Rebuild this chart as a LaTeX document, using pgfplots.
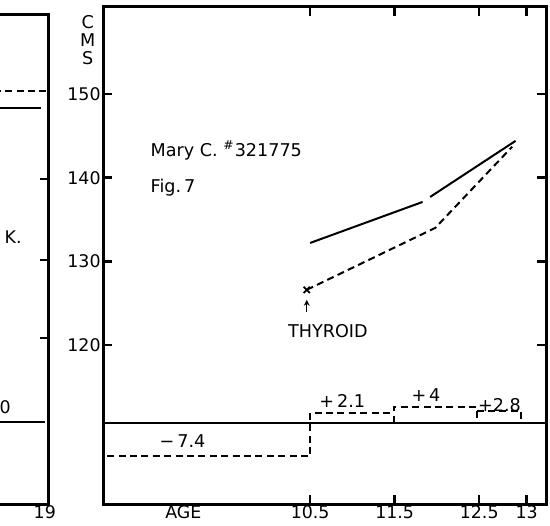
\documentclass[border=0pt]{standalone}
\usepackage{pgfplots}
\pgfplotsset{compat=1.18}
\usepackage{fontspec}
\setmainfont{DejaVu Sans}
\usetikzlibrary{arrows.meta}
\begin{document}
\begin{tikzpicture}
\pgfplotsset{
  every axis/.append style={
    scale only axis,
    axis line style={line width=1.5pt},
    tick align=inside,
    major tick length=4.5pt,
    every tick/.style={line width=1.2pt, black},
    tick label style={font=\fontsize{8.7}{10}\selectfont},
    yticklabel style={inner sep=1pt},
    xticklabel style={inner sep=0.8pt},
    /pgf/number format/assume math mode=true,
    clip=false,
  },
  dsh/.style={line width=1pt, dash pattern=on 3.5pt off 2.2pt},
  sld/.style={line width=1pt},
}
% ---- left panel (cut off) ----
\begin{axis}[
  at={(-100pt,10.5pt)}, anchor=south west,
  width=124.5pt, height=244.5pt,
  xmin=16.1, xmax=19.05, ymin=101.05, ymax=159.5,
  xtick={19}, xticklabels={19},
  xtick style={draw=none},
  ytick={139.9,130.2,120.9}, yticklabels={},
  ytick pos=right,
]
\addplot[dsh, black] coordinates {(16.1,150.4) (19.02,150.4)};
\addplot[sld, black] coordinates {(16.1,148.4) (18.96,148.4)};
\addplot[sld, black] coordinates {(16.1,110.85) (19.0,110.85)};
\node[anchor=east, font=\fontsize{8.7}{10}\selectfont, inner sep=0pt] at (axis cs:18.73,133.0) {K.};
\node[anchor=east, font=\fontsize{8.7}{10}\selectfont, inner sep=0pt] at (axis cs:18.60,112.6) {0};
\end{axis}
% ---- main panel ----
\begin{axis}[
  at={(51.5pt,10.5pt)}, anchor=south west,
  width=221.5pt, height=248.5pt,
  xmin=8.05, xmax=13.29, ymin=101.0, ymax=160.4,
  xtick={10.5,11.5,12.5,13.06}, xticklabels={10.5,11.5,12.5,13},
  extra x ticks={9.0}, extra x tick labels={AGE},
  extra x tick style={major tick length=0pt},
  ytick={120,130,140,150}, yticklabels={120,130,140,150},
]
% height curves
\addplot[sld, black] coordinates {(10.5,132.2) (11.83,137.1)};
\addplot[sld, black] coordinates {(11.92,137.7) (12.93,144.4)};
\addplot[dsh, black] coordinates {(10.46,126.6) (11.98,134.0) (12.89,143.7)};
\addplot[black, only marks, mark=x, mark size=2.2pt, mark options={line width=0.9pt}] coordinates {(10.46,126.6)};
% baseline and increments
\addplot[sld, black] coordinates {(8.05,110.7) (13.29,110.7)};
\addplot[dsh, black] coordinates {(8.1,106.7) (10.5,106.7) (10.5,111.9) (11.49,111.9)};
\addplot[dsh, black] coordinates {(11.49,110.7) (11.49,112.6) (12.47,112.6) (12.47,110.7)};
\addplot[dsh, black] coordinates {(12.47,112.1) (13.0,112.1) (13.0,110.7)};
% annotations
\draw[-{Stealth[length=3pt,width=3pt]}, line width=0.6pt] (axis cs:10.46,124.0) -- (axis cs:10.46,125.4);
\begin{scope}[every node/.style={font=\fontsize{8.8}{10}\selectfont, inner sep=0pt}]
\node[anchor=base] at (axis cs:10.71,120.85) {THYROID};
\node[anchor=base west] at (axis cs:8.61,142.5) {Mary C. \textsuperscript{\#}321775};
\node[anchor=base west] at (axis cs:8.61,138.2) {Fig.\,7};
\node[anchor=base] at (axis cs:8.99,107.8) {−\,7.4};
\node[anchor=base] at (axis cs:10.88,112.5) {+\,2.1};
\node[anchor=base] at (axis cs:11.87,113.2) {+\,4};
\node[anchor=base] at (axis cs:12.74,112.1) {+2.8};
\node[align=center, font=\fontsize{8.8}{9}\selectfont] at (axis cs:7.87,156.4) {C\\M\\S};
\end{scope}
\end{axis}
\pgfresetboundingbox
\path[use as bounding box] (0pt,0pt) rectangle (275pt,262.5pt);
\end{tikzpicture}
\end{document}
